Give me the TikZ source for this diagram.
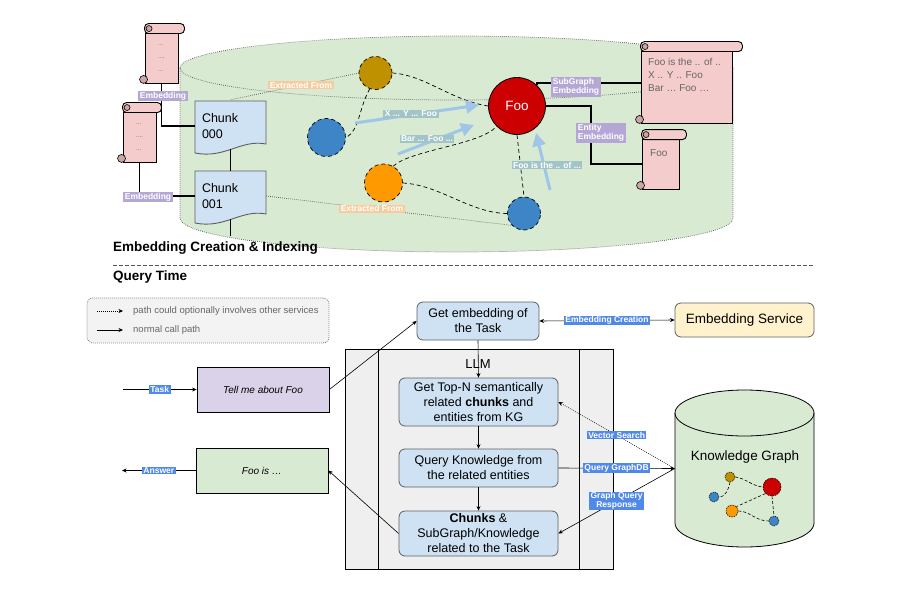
\documentclass[tikz,border=0pt]{standalone}
\usepackage{fontspec}
\setmainfont{Liberation Sans}
\usetikzlibrary{arrows.meta,calc}

\definecolor{cylgreen}{HTML}{D9EAD3}
\definecolor{scrollpink}{HTML}{F4CCCC}
\definecolor{curlc}{HTML}{C9A5A5}
\definecolor{chunkblue}{HTML}{CFE2F3}
\definecolor{brownc}{HTML}{BF9000}
\definecolor{bluec}{HTML}{3D85C6}
\definecolor{orangec}{HTML}{FF9900}
\definecolor{redc}{HTML}{CC0000}
\definecolor{lblorange}{HTML}{F9CB9C}
\definecolor{lblpurple}{HTML}{B4A7D6}
\definecolor{lblteal}{HTML}{A2C4C9}
\definecolor{arrowblue}{HTML}{9FC5E8}
\definecolor{selblue}{HTML}{5089E8}
\definecolor{llmgrey}{HTML}{EFEFEF}
\definecolor{taskpurple}{HTML}{D9D2E9}
\definecolor{svcyellow}{HTML}{FFF2CC}
\definecolor{legendgrey}{HTML}{F3F3F3}
\definecolor{greytext}{HTML}{666666}
\definecolor{dotgrey}{HTML}{555555}
\definecolor{boxline}{HTML}{5F5F5F}

\tikzset{
  >={Stealth[length=4.5pt,width=4pt]},
  lblbase/.style={inner xsep=1.5pt, inner ysep=1pt, text=white, font=\fontsize{8.5}{9.5}\selectfont\bfseries},
  olbl/.style={lblbase, fill=lblorange},
  plbl/.style={lblbase, fill=lblpurple, align=left},
  tlbl/.style={lblbase, fill=lblteal},
  blbl/.style={lblbase, fill=selblue, align=center},
  dotline/.style={line width=0.7pt, dash pattern=on 0.7pt off 1.3pt, draw=dotgrey},
  dashcurve/.style={line width=0.7pt, dash pattern=on 4pt off 3pt},
  thickconn/.style={line width=1.6pt},
  scrollbody/.style={draw, line width=0.9pt, fill=scrollpink, inner sep=0pt, text=greytext},
  chunknode/.style={inner sep=0pt, minimum width=71pt, minimum height=52pt, align=left, text width=57pt, font=\fontsize{12.5}{16}\selectfont},
  entity/.style={circle, draw, dashcurve, inner sep=0pt, minimum size=#1},
  bluearrow/.style={draw=arrowblue, line width=3pt, -{Triangle[length=13pt,width=13pt]}},
  procbox/.style={draw=boxline, line width=0.8pt, rounded corners=6pt, fill=chunkblue, align=center, inner sep=0pt, font=\fontsize{12.5}{15}\selectfont},
  arr/.style={line width=0.6pt, ->},
  plainbox/.style={draw, line width=0.8pt, inner sep=0pt, minimum width=132pt, minimum height=45pt, font=\fontsize{10}{12}\selectfont\itshape},
  kgdot/.style={circle, draw, line width=0.5pt, dash pattern=on 1.5pt off 1pt, inner sep=0pt, minimum size=#1},
  kgedge/.style={line width=0.6pt, dash pattern=on 3pt off 2pt},
}

\newcommand\scrolldeco[2]{%
  \draw[line width=0.9pt, fill=scrollpink, rounded corners=4pt] ($(#1.north west)+(0,-9)$) rectangle ($(#1.north east)+(#2,1)$);
  \draw[line width=0.6pt, fill=curlc] ($(#1.north west)+(4.5,-4)$) circle[radius=3pt];
  \draw[line width=0.6pt, fill=curlc] ($(#1.south west)+(-1,-4)$) circle[radius=4pt];
}
\newcommand\chunkshape[4]{%
  \draw[line width=0.9pt, draw=boxline, fill=chunkblue] (#1,#2) -- (#3,#2) -- (#3,#4-9) .. controls (#3-25,#4-14) and (#1+30,#4+6) .. (#1,#4) -- cycle;
}

\begin{document}
\begin{tikzpicture}[x=1pt,y=-1pt]
\useasboundingbox (0,0) rectangle (920,591);

% ---------- big green cylinder ----------
\fill[cylgreen] (180,68) arc[start angle=180,end angle=0,x radius=276.5pt,y radius=32pt] -- (733,218) arc[start angle=0,end angle=-180,x radius=276.5pt,y radius=34pt] -- cycle;
\draw[dotline] (180,68) arc[start angle=180,end angle=0,x radius=276.5pt,y radius=32pt] -- (733,218) arc[start angle=0,end angle=-180,x radius=276.5pt,y radius=34pt] -- cycle;
\draw[dotline] (180,68) arc[start angle=180,end angle=360,x radius=276.5pt,y radius=32pt];

% ---------- chunks ----------
\chunkshape{195}{101}{266}{153}
\chunkshape{195}{171}{266}{223}
\node[chunknode] (c0) at (230.5,126) {Chunk\\000};
\node[chunknode] (c1) at (230.5,196) {Chunk\\001};
\coordinate (c1tail) at (230.5,236);
\draw[line width=0.6pt] ($(c0.south)+(0,-3)$) -- ($(c1.north)+(0,1)$);
\draw[line width=0.6pt] ($(c1.south)+(0,-3)$) -- (c1tail);

% ---------- entity circles ----------
\node[entity=33pt, fill=brownc] (cbrown) at (375.5,73) {};
\node[entity=38pt, fill=bluec] (cblue1) at (326.5,137.5) {};
\node[entity=38pt, fill=orangec] (corange) at (383.5,183) {};
\node[entity=33pt, fill=bluec] (cblue2) at (524,213.5) {};
\node[circle, draw, line width=0.8pt, fill=redc, inner sep=0pt, minimum size=57pt, text=white, font=\fontsize{13.5}{15}\selectfont] (foo) at (517,106) {Foo};

% extracted-from dotted lines
\draw[dotline] (cbrown.west) -- (c0.north) node[pos=0.45, olbl] (ex1) {Extracted From};
\draw[dotline] (c1.east) -- (cblue2.225) node[pos=0.43, olbl] (ex2) {Extracted From};

% dashed relations
\draw[dashcurve] (cbrown.east) .. controls (425,75) and (450,100) .. (foo.west);
\draw[dashcurve] (cbrown.250) .. controls (358,110) and (360,130) .. (cblue1.east);
\draw[dashcurve] (corange.60) .. controls (410,150) and (480,145) .. (foo.225);
\draw[dashcurve] (corange.east) .. controls (440,185) and (470,213) .. (cblue2.west);
\draw[dashcurve] (foo.south) -- (cblue2.north);

% blue arrows
\coordinate (ba1s) at (355,123); \coordinate (ba1e) at (479,105);
\coordinate (ba2s) at (398,154); \coordinate (ba2e) at (474,125);
\coordinate (ba3s) at (550,190); \coordinate (ba3e) at (536,133);
\draw[bluearrow] (ba1s) -- (ba1e);
\draw[bluearrow] (ba2s) -- (ba2e);
\draw[bluearrow] (ba3s) -- (ba3e);
\node[tlbl] (t1) at (411,114) {X ... Y ... Foo};
\node[tlbl] (t2) at (427,139) {Bar ... Foo ...};
\node[tlbl] (t3) at (547,165) {Foo is the .. of ...};

% ---------- scrolls ----------
\node[scrollbody, minimum width=33pt, minimum height=50pt, font=\fontsize{6}{13}\selectfont, align=left] (s1) at (161.5,58) {...\\....\\...};
\scrolldeco{s1}{6}
\node[scrollbody, minimum width=33pt, minimum height=50pt, font=\fontsize{6}{13}\selectfont, align=left] (s2) at (139.5,137) {...\\....\\...};
\scrolldeco{s2}{5}
\node[scrollbody, minimum width=91pt, minimum height=72pt] (s3) at (686.5,87) {};
\scrolldeco{s3}{10}
\node[anchor=north west, align=left, text=greytext, font=\fontsize{10}{13}\selectfont, inner sep=0pt] (s3txt) at (648,58) {Foo is the .. of ..\\X .. Y .. Foo\\Bar … Foo …};
\node[scrollbody, minimum width=37pt, minimum height=50pt] (s4) at (660.5,164) {};
\scrolldeco{s4}{7}
\node[anchor=west, text=greytext, font=\fontsize{10}{13}\selectfont, inner sep=0pt] (s4txt) at (650,153) {Foo};

% embedding connectors
\draw[thickconn] (s1.south) |- (c0.west);
\node[plbl] (e1) at (163,96) {Embedding};
\draw[thickconn] (s2.south) |- (c1.west);
\node[plbl] (e2) at (148,197) {Embedding};
\draw[thickconn] (foo.46) |- ($(s3.west)+(0,-4)$);
\node[plbl] (e3) at (576,87) {SubGraph\\Embedding};
\draw[thickconn] (foo.east) -- ++(45,0) |- (s4.west);
\node[plbl] (e4) at (601,133) {Entity\\Embedding};

% ---------- titles ----------
\node[anchor=west, inner sep=0pt, font=\fontsize{13.5}{15}\selectfont\bfseries] (title1) at (113,248) {Embedding Creation \& Indexing};
\coordinate (sepL) at (113,265); \coordinate (sepR) at (815,265);
\draw[line width=0.6pt, draw=dotgrey, dash pattern=on 3.5pt off 2.5pt] (sepL) -- (sepR);
\node[anchor=west, inner sep=0pt, font=\fontsize{13.5}{15}\selectfont\bfseries] (title2) at (113,277) {Query Time};

% ---------- legend ----------
\node[dotline, rounded corners=6pt, fill=legendgrey, minimum width=242pt, minimum height=45pt] (legend) at (208,320.5) {};
\coordinate (l1a) at (97,311); \coordinate (l1b) at (123,311);
\coordinate (l2a) at (97,330); \coordinate (l2b) at (123,330);
\draw[arr, dash pattern=on 1pt off 1pt] (l1a) -- (l1b);
\draw[arr] (l2a) -- (l2b);
\node[anchor=west, inner sep=0pt, text=greytext, font=\fontsize{9.5}{11}\selectfont] (lt1) at (133,311) {path could optionally involves other services};
\node[anchor=west, inner sep=0pt, text=greytext, font=\fontsize{9.5}{11}\selectfont] (lt2) at (133,330) {normal call path};

% ---------- LLM ----------
\node[draw, line width=0.8pt, fill=llmgrey, minimum width=268pt, minimum height=220pt, inner sep=0pt] (llm) at (479,459) {};
\draw[line width=0.8pt] ($(llm.north west)+(34,0)$) -- ($(llm.south west)+(34,0)$);
\draw[line width=0.8pt] ($(llm.north east)+(-34,0)$) -- ($(llm.south east)+(-34,0)$);
\node[font=\fontsize{13}{15}\selectfont] (llmtxt) at (478,364) {LLM};

\node[procbox, minimum width=122pt, minimum height=38pt] (getemb) at (478,321) {Get embedding of\\the Task};
\node[procbox, minimum width=159pt, minimum height=48pt] (topn) at (478.5,402) {Get Top-N semantically\\related \textbf{chunks} and\\entities from KG};
\node[procbox, minimum width=159pt, minimum height=38pt] (qk) at (478.5,468) {Query Knowledge from\\the related entities};
\node[procbox, minimum width=159pt, minimum height=45pt] (chunks) at (478.5,533.5) {\textbf{Chunks} \&\\SubGraph/Knowledge\\related to the Task};
\node[procbox, fill=svcyellow, minimum width=139pt, minimum height=34pt, font=\fontsize{13.5}{15}\selectfont] (svc) at (744.5,320) {Embedding Service};

% ---------- task / answer ----------
\node[plainbox, fill=taskpurple] (tell) at (263,389.5) {Tell me about Foo};
\node[plainbox, fill=cylgreen] (fooans) at (262,470.5) {Foo is …};
\coordinate (taskin) at (123,389.5);
\coordinate (ansout) at (122,470.5);

% ---------- knowledge graph ----------
\fill[cylgreen] (675,413) arc[start angle=180,end angle=0,x radius=69.5pt,y radius=23pt] -- (814,523) arc[start angle=0,end angle=-180,x radius=69.5pt,y radius=24pt] -- cycle;
\draw[line width=0.8pt] (675,413) arc[start angle=180,end angle=0,x radius=69.5pt,y radius=23pt] -- (814,523) arc[start angle=0,end angle=-180,x radius=69.5pt,y radius=24pt] -- cycle;
\draw[line width=0.8pt] (675,413) arc[start angle=180,end angle=360,x radius=69.5pt,y radius=23pt];
\node[inner sep=0pt, minimum width=139pt, minimum height=157pt] (kg) at (744.5,468.5) {};
\node[font=\fontsize{13.5}{15}\selectfont] (kgtxt) at (745,457) {Knowledge Graph};
\node[kgdot=10pt, fill=brownc] (g1) at (730,477) {};
\node[kgdot=18pt, fill=redc] (g2) at (772,487) {};
\node[kgdot=10pt, fill=bluec] (g3) at (714,497) {};
\node[kgdot=12pt, fill=orangec] (g4) at (732,511) {};
\node[kgdot=10pt, fill=bluec] (g5) at (774,521) {};
\draw[kgedge] (g1.south) .. controls (728,492) and (724,497) .. (g3.east);
\draw[kgedge] (g1.east) .. controls (745,478) and (752,486) .. (g2.west);
\draw[kgedge] (g2.225) -- (g4.north east);
\draw[kgedge] (g2.south) -- (g5.north);
\draw[kgedge] (g4.east) .. controls (750,511) and (755,521) .. (g5.west);

% ---------- connectors ----------
\draw[arr] (taskin) -- (tell.west) node[midway, blbl] (lbltask) {Task};
\draw[arr] (fooans.west) -- (ansout) node[midway, blbl] (lblans) {Answer};
\draw[arr] (tell.east) -- (getemb.west);
\draw[arr] (chunks.west) -- (fooans.east);
\draw[line width=0.6pt, <->] (getemb.east) -- (svc.west) node[midway, blbl] (lblec) {Embedding Creation};
\draw[arr] (getemb.south) -- (topn.north);
\draw[arr] (topn.south) -- (qk.north);
\draw[arr] (qk.south) -- (chunks.north);
\draw[arr, dash pattern=on 0.8pt off 1.2pt] (kg.west) -- (topn.east) node[midway, blbl] (lblvs) {Vector Search};
\draw[arr] (qk.east) -- (kg.west) node[midway, blbl] (lblqg) {Query GraphDB};
\draw[arr] (kg.west) -- (chunks.east) node[midway, blbl] (lblgq) {Graph Query\\[-1pt]Response};
\end{tikzpicture}
\end{document}
